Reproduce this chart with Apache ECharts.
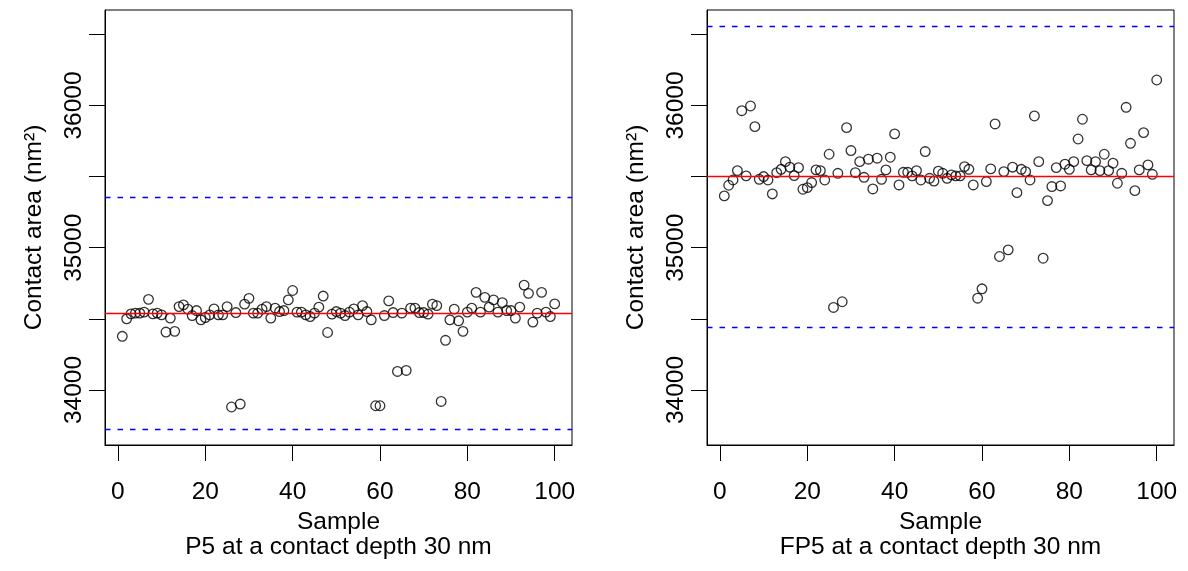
<!DOCTYPE html>
<html>
<head>
<meta charset="utf-8">
<script src="https://cdn.jsdelivr.net/npm/echarts@6/dist/echarts.min.js"></script>
<style>
html,body{margin:0;padding:0;background:#fff;}
#chart{width:1188px;height:571px;}
</style>
</head>
<body>
<div id="chart"></div>
<script>
const samples = [1,2,3,4,5,6,7,8,9,10,11,12,13,14,15,16,17,18,19,20,21,22,23,24,25,26,27,28,29,30,31,32,33,34,35,36,37,38,39,40,41,42,43,44,45,46,47,48,49,50,51,52,53,54,55,56,57,58,59,60,61,62,63,64,65,66,67,68,69,70,71,72,73,74,75,76,77,78,79,80,81,82,83,84,85,86,87,88,89,90,91,92,93,94,95,96,97,98,99,100];

const p5Area = [34377,34500,34535,34540,34540,34547,34637,34535,34540,34528,
  34407,34505,34412,34586,34598,34568,34523,34558,34493,34509,
  34528,34570,34528,34528,34586,33880,34544,33901,34603,34644,
  34540,34540,34568,34586,34505,34575,34551,34558,34633,34699,
  34547,34547,34528,34516,34540,34582,34660,34404,34533,34551,
  34540,34523,34547,34570,34528,34593,34551,34493,33889,33889,
  34523,34626,34544,34130,34540,34137,34575,34575,34544,34544,
  34533,34603,34593,33919,34349,34493,34568,34486,34412,34547,
  34575,34686,34547,34651,34582,34633,34547,34614,34558,34558,
  34505,34582,34737,34679,34477,34540,34686,34547,34516,34605];

const fp5Area = [35364,35439,35476,35542,35963,35505,35996,35851,35481,35500,
  35476,35378,35528,35551,35605,35566,35507,35563,35411,35422,
  35458,35547,35542,35476,35657,34580,35523,34620,35844,35683,
  35528,35605,35495,35622,35413,35629,35481,35547,35636,35800,
  35441,35530,35530,35505,35542,35476,35676,35488,35468,35538,
  35523,35488,35512,35505,35505,35570,35551,35441,34645,34711,
  35465,35554,35870,34938,35535,34985,35566,35387,35551,35535,
  35476,35926,35605,34926,35331,35430,35563,35434,35587,35551,
  35605,35764,35903,35612,35547,35605,35542,35657,35542,35594,
  35453,35523,35987,35734,35401,35547,35809,35582,35516,36179];

// reference lines: [lower, centre, upper]
const p5Lines = [33726, 34540, 35354];
const fp5Lines = [34440, 35500, 36558];

const xTicks = [0, 20, 40, 60, 80, 100];
const yTicks = [34000, 34500, 35000, 35500, 36000, 36500];
const yLabels = [34000, 35000, 36000];
const xRange = [-2.96, 103.96];
const yRange = [33613, 36671];

const panelTitles = ['P5 at a contact depth 30 nm', 'FP5 at a contact depth 30 nm'];
const xName = 'Sample';
const yName = 'Contact area (nm²)';

const FONT = "'Liberation Sans', Arial, Helvetica, sans-serif";
const FS = 24.5;

const grids = [
  {left: 105, top: 10, width: 467, height: 435},
  {left: 707, top: 10, width: 467, height: 435}
];

function xAxis(gi) {
  return {
    gridIndex: gi, type: 'value', min: xRange[0], max: xRange[1],
    axisLine: {show: true, onZero: false, lineStyle: {color: '#000', width: 1}},
    axisTick: {show: true, inside: false, length: 16, customValues: xTicks, lineStyle: {color: '#000', width: 1}},
    axisLabel: {customValues: xTicks, margin: 35, fontSize: FS, color: '#000', fontFamily: FONT,
      formatter: v => String(v)},
    splitLine: {show: false},
    name: xName, nameLocation: 'middle', nameGap: 64,
    nameTextStyle: {fontSize: FS, color: '#000', fontFamily: FONT}
  };
}
function yAxis(gi) {
  return {
    gridIndex: gi, type: 'value', min: yRange[0], max: yRange[1],
    axisLine: {show: true, onZero: false, lineStyle: {color: '#000', width: 1}},
    axisTick: {show: true, inside: false, length: 16, customValues: yTicks, lineStyle: {color: '#000', width: 1}},
    axisLabel: {customValues: yLabels, rotate: 90, margin: 18, fontSize: FS, color: '#000', fontFamily: FONT,
      formatter: v => String(v)},
    splitLine: {show: false},
    name: yName, nameLocation: 'middle', nameGap: 58, nameRotate: 90,
    nameTextStyle: {fontSize: FS, color: '#000', fontFamily: FONT}
  };
}
function refLines(vals) {
  return {
    symbol: 'none', silent: true, label: {show: false}, animation: false,
    data: [
      {yAxis: vals[0], lineStyle: {color: '#0000FF', width: 1.3, type: [5.5, 7]}},
      {yAxis: vals[1], lineStyle: {color: '#FF0000', width: 1.3, type: 'solid'}},
      {yAxis: vals[2], lineStyle: {color: '#0000FF', width: 1.3, type: [5.5, 7]}}
    ]
  };
}
function scatter(gi, vals, lines) {
  return {
    type: 'scatter', xAxisIndex: gi, yAxisIndex: gi,
    data: samples.map((s, i) => [s, vals[i]]),
    symbol: 'circle', symbolSize: 9.6,
    itemStyle: {color: 'rgba(0,0,0,0)', borderColor: '#000', borderWidth: 1.3},
    markLine: refLines(lines),
    z: 3
  };
}

const chart = echarts.init(document.getElementById('chart'), null, {renderer: 'canvas'});
chart.setOption({
  animation: false,
  backgroundColor: '#fff',
  grid: grids.map(g => Object.assign({show: true, borderColor: '#000', borderWidth: 1, backgroundColor: 'transparent'}, g)),
  xAxis: [xAxis(0), xAxis(1)],
  yAxis: [yAxis(0), yAxis(1)],
  series: [scatter(0, p5Area, p5Lines), scatter(1, fp5Area, fp5Lines)],
  graphic: panelTitles.map((t, i) => ({
    type: 'text',
    x: grids[i].left + grids[i].width / 2, y: 547,
    style: {text: t, fill: '#000', font: FS + 'px ' + FONT, textAlign: 'center', textVerticalAlign: 'middle'}
  }))
});
</script>
</body>
</html>
